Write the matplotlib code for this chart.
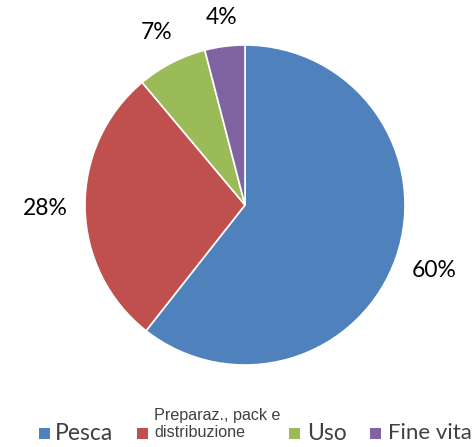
import numpy as np
import matplotlib
matplotlib.use("Agg")
import matplotlib.pyplot as plt
from matplotlib.patches import Rectangle

categories = ["Pesca", "Preparaz., pack e\ndistribuzione", "Uso", "Fine vita"]
values = [60, 28, 7, 4]
colors = ["#4F81BD", "#C0504D", "#9BBB59", "#8064A2"]

W, H = 473, 447
fig = plt.figure(figsize=(W / 100, H / 100), dpi=100)
fig.patch.set_facecolor("white")

# pie axes: centre (245, 205) px, radius 160 px
cx, cy, r = 245, 205, 160
ax = fig.add_axes([(cx - r) / W, (H - cy - r) / H, 2 * r / W, 2 * r / H])
wedges, _ = ax.pie(values, colors=colors, startangle=90, counterclock=False,
                   radius=1.0, wedgeprops=dict(edgecolor="white", linewidth=1.2))
ax.set_xlim(-1, 1)
ax.set_ylim(-1, 1)
ax.set_aspect("equal")
ax.axis("off")

dists = [1.25, 1.25, 1.21, 1.18]
for w, v, d in zip(wedges, values, dists):
    mid = np.deg2rad((w.theta1 + w.theta2) / 2)
    ax.text(d * np.cos(mid), d * np.sin(mid), f"{v}%", ha="center", va="center",
            fontsize=16.5, family="Lato", color="#000000", clip_on=False)

# legend row
def px(x, y):
    return x / W, 1 - y / H

sq = 11
legend_items = [
    (39, 55, "Pesca", 16.5, "Lato"),
    (137, 154, "Preparaz., pack e\ndistribuzione", 11.6, "Liberation Sans"),
    (289, 307, "Uso", 16.5, "Lato"),
    (370, 388, "Fine vita", 16, "Lato"),
]
ly = 433
for (sx, tx, label, fs, fam), col in zip(legend_items, colors):
    x0, y0 = px(sx, ly + sq / 2)
    fig.patches.append(Rectangle((x0, y0), sq / W, sq / H, transform=fig.transFigure,
                                 facecolor=col, edgecolor="none"))
    if "\n" in label:
        tx0, ty0 = px(tx, 424)
        fig.text(tx0, ty0, label, ha="left", va="center", fontsize=fs, family=fam,
                 color="#404040", linespacing=1.15)
    else:
        tx0, ty0 = px(tx, ly)
        fig.text(tx0, ty0, label, ha="left", va="center", fontsize=fs, family=fam,
                 color="#404040")

fig.savefig("out.png", dpi=100, facecolor="white")
